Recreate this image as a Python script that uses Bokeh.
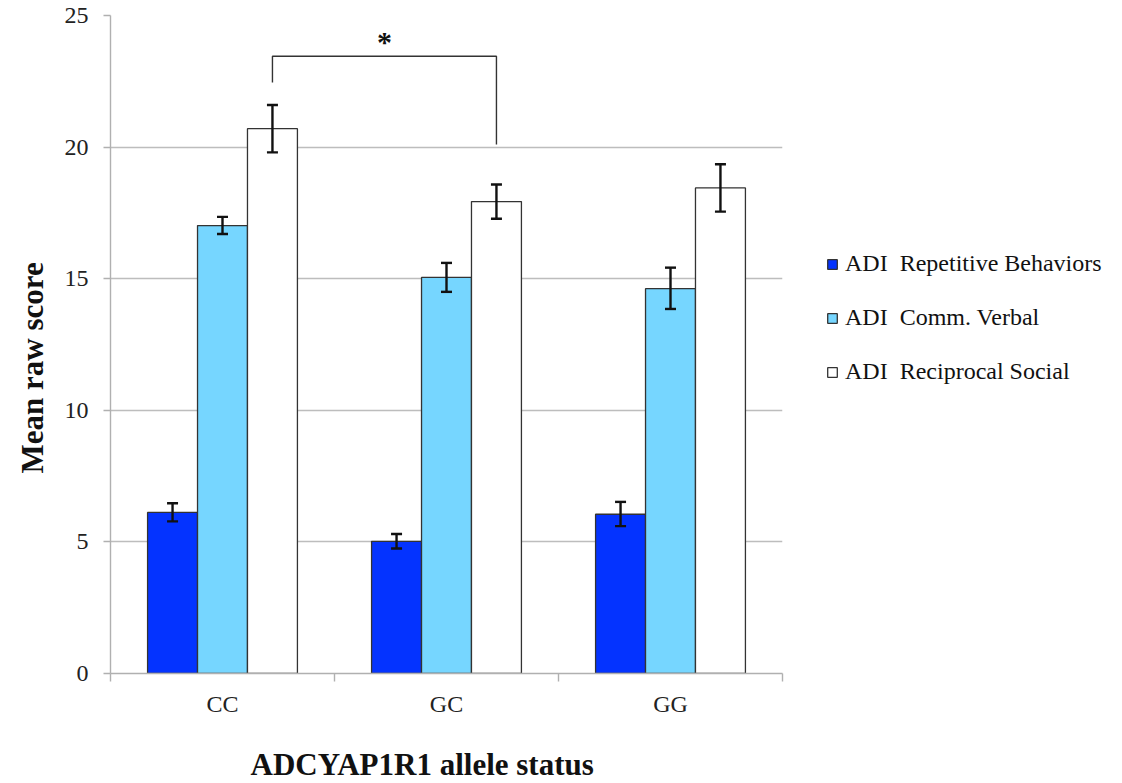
from bokeh.plotting import figure
from bokeh.models import (ColumnDataSource, Whisker, TeeHead, FixedTicker, Legend, LegendItem,
                          Range1d, Title)
from bokeh.core.properties import value
from bokeh.embed import file_html
from bokeh.resources import INLINE

# ---- data ----
categories = ["CC", "GC", "GG"]
series = ["ADI  Repetitive Behaviors", "ADI  Comm. Verbal", "ADI  Reciprocal Social"]
rep_behav = [6.12, 5.02, 6.05]
rep_lo = [5.78, 4.75, 5.6]
rep_hi = [6.47, 5.3, 6.52]
comm_verbal = [17.02, 15.05, 14.62]
comm_lo = [16.7, 14.5, 13.85]
comm_hi = [17.35, 15.6, 15.42]
recip_social = [20.7, 17.93, 18.45]
recip_lo = [19.8, 17.28, 17.55]
recip_hi = [21.6, 18.58, 19.35]
y_ticks = [0, 5, 10, 15, 20, 25]
sig_pair = ["CC", "GC"]
sig_levels = [22.45, 23.45, 23.45, 20.1]
sig_star_level = 24.0
x_title = "ADCYAP1R1 allele status"
y_title = "Mean raw score"

colors = ["#0433FF", "#76D6FF", "#FFFFFF"]
offsets = [-0.223, 0.0, 0.223]
bar_w = 0.223
FONT = "Liberation Serif"

p = figure(frame_width=672, frame_height=658, min_border_left=110, min_border_right=330,
           min_border_top=15, min_border_bottom=108,
           x_range=Range1d(0, len(categories)), y_range=Range1d(0, 25),
           output_backend="svg", toolbar_location=None)

centers = [i + 0.5 for i in range(len(categories))]
vals = [rep_behav, comm_verbal, recip_social]
los = [rep_lo, comm_lo, recip_lo]
his = [rep_hi, comm_hi, recip_hi]
renderers = []
for k in range(3):
    src = ColumnDataSource(dict(x=[c + offsets[k] for c in centers], top=vals[k],
                                lo=los[k], hi=his[k]))
    r = p.vbar(x="x", top="top", width=bar_w, source=src, fill_color=colors[k],
               line_color="#333333", line_width=1.3)
    renderers.append(r)
    w = Whisker(base="x", lower="lo", upper="hi", source=src, line_width=2.4, line_color="#111111",
                upper_head=TeeHead(size=11, line_width=2.4, line_color="#111111"),
                lower_head=TeeHead(size=11, line_width=2.4, line_color="#111111"),
                level="overlay")
    p.add_layout(w)

# significance bracket
i0, i1 = categories.index(sig_pair[0]), categories.index(sig_pair[1])
bx0, bx1 = centers[i0] + offsets[2], centers[i1] + offsets[2]
p.line(x=[bx0, bx0, bx1, bx1], y=sig_levels, line_color="#333333", line_width=1.4)
p.text(x=[(bx0 + bx1) / 2], y=[sig_star_level], text=["*"], text_align="center",
       text_baseline="middle", text_font=value(FONT), text_font_style="bold",
       text_font_size="30px", text_color="#111111")

# axes
p.outline_line_color = None
p.xgrid.grid_line_color = None
p.ygrid.grid_line_color = "#BDBDBD"
p.ygrid.grid_line_width = 1.4
p.yaxis.ticker = FixedTicker(ticks=y_ticks, minor_ticks=[])
p.yaxis.axis_line_color = "#B0B0B0"
p.yaxis.axis_line_width = 1.4
p.yaxis.major_tick_line_color = "#B0B0B0"
p.yaxis.major_tick_line_width = 1.4
p.yaxis.major_tick_out = 7
p.yaxis.major_tick_in = 0
p.yaxis.minor_tick_line_color = None
p.yaxis.major_label_text_font = FONT
p.yaxis.major_label_text_font_size = "24px"
p.yaxis.major_label_text_color = "#222222"
p.yaxis.major_label_standoff = 15

p.xaxis.ticker = FixedTicker(ticks=centers, minor_ticks=list(range(len(categories) + 1)))
p.xaxis.major_label_overrides = {c: cat for c, cat in zip(centers, categories)}
p.xaxis.axis_line_color = "#B0B0B0"
p.xaxis.axis_line_width = 1.4
p.xaxis.major_tick_line_color = None
p.xaxis.major_tick_out = 0
p.xaxis.major_tick_in = 0
p.xaxis.minor_tick_line_color = "#B0B0B0"
p.xaxis.minor_tick_line_width = 1.4
p.xaxis.minor_tick_out = 8
p.xaxis.minor_tick_in = 0
p.xaxis.major_label_text_font = FONT
p.xaxis.major_label_text_font_size = "24px"
p.xaxis.major_label_text_color = "#222222"
p.xaxis.major_label_standoff = 9

p.add_layout(Title(text=x_title, align="left", offset=140, text_font=FONT,
                   text_font_style="bold", text_font_size="31px", text_color="#111111",
                   vertical_align="bottom", standoff=50), "below")
p.add_layout(Title(text=y_title, align="left", offset=200, text_font=FONT,
                   text_font_style="bold", text_font_size="31px", text_color="#111111",
                   vertical_align="bottom", standoff=23), "left")

legend = Legend(items=[LegendItem(label=s, renderers=[r]) for s, r in zip(series, renderers)],
                location=(44, 288), margin=0, padding=0, spacing=27,
                glyph_width=12, glyph_height=12, label_standoff=7,
                label_text_font=FONT, label_text_font_size="24px", label_text_color="#111111",
                border_line_color=None, background_fill_alpha=0)
p.add_layout(legend, "right")

open("out.html", "w").write(file_html(p, INLINE))
